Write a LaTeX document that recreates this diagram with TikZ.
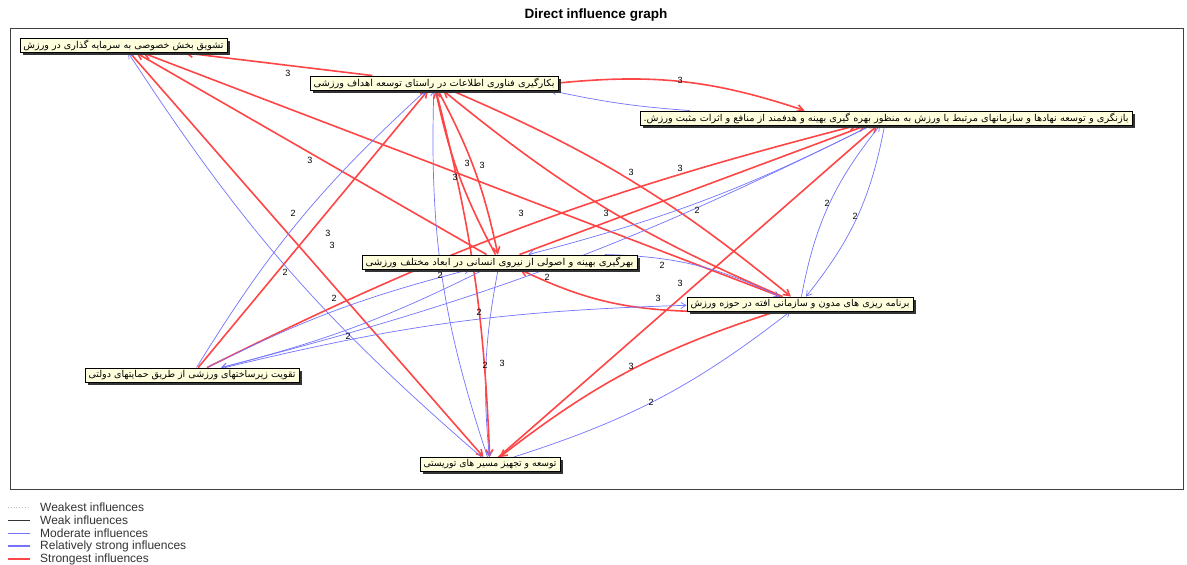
\documentclass[tikz,border=0pt]{standalone}
\usepackage{fontspec}
\setmainfont{Liberation Sans}
\newfontfamily\fa[Script=Arabic]{DejaVu Sans}
\TeXXeTstate=1
\usetikzlibrary{arrows.meta,shadows,backgrounds}
\definecolor{edgered}{RGB}{255,70,70}
\definecolor{edgeblue}{RGB}{115,115,255}
\definecolor{boxfill}{RGB}{255,255,222}
\newcommand{\fatext}[2]{\resizebox{#1}{\height}{\fa\fontsize{9.5}{11}\selectfont #2}}
\tikzset{
  factor/.style={draw=black, line width=0.9pt, fill=boxfill, inner sep=0pt, minimum height=14pt,
    drop shadow={shadow xshift=2.5pt, shadow yshift=-2.5pt, fill=black!80, opacity=1}},
  strong/.style={draw=edgered, line width=1.6pt, -{Straight Barb[length=6pt,width=7pt]}},
  moderate/.style={draw=edgeblue, line width=0.7pt, -{Straight Barb[length=5pt,width=6pt]}},
  wlabel/.style={font=\fontsize{9}{10}\selectfont, inner sep=0pt},
  legtext/.style={font=\fontsize{12}{13}\selectfont, text=black!80, anchor=west, inner sep=0pt},
}
\begin{document}
\begin{tikzpicture}[x=1pt,y=-1pt]
\useasboundingbox (0,0) rectangle (1187,565);
\node[font=\bfseries\fontsize{13.5}{15}\selectfont] (title) at (596,15) {Direct influence graph};

% factors
\node[factor, minimum width=207pt] (A) at (123.5,45.5) {\fatext{200pt}{\beginR تشویق بخش خصوصی به سرمایه گذاری در ورزش\endR}};
\node[factor, minimum width=248pt] (B) at (434,83) {\fatext{241pt}{\beginR بکارگیری فناوری اطلاعات در راستای توسعه اهداف ورزشی\endR}};
\node[factor, minimum width=492pt] (C) at (886,118) {\fatext{485pt}{\beginR بازنگری و توسعه نهادها و سازمانهای مرتبط با ورزش به منظور بهره گیری بهینه و هدفمند از منافع و اثرات مثبت ورزش.\endR}};
\node[factor, minimum width=275pt] (D) at (499.5,262) {\fatext{268pt}{\beginR بهرگیری بهینه و اصولی از نیروی انسانی در ابعاد مختلف ورزشی\endR}};
\node[factor, minimum width=226pt] (E) at (800,304) {\fatext{219pt}{\beginR برنامه ریزی های مدون و سازمانی افته در حوزه ورزش\endR}};
\node[factor, minimum width=214pt] (F) at (192,375) {\fatext{207pt}{\beginR تقویت زیرساختهای ورزشی از طریق حمایتهای دولتی\endR}};
\node[factor, minimum width=140pt] (G) at (490,464.5) {\fatext{133pt}{\beginR توسعه و تجهیز مسیر های توریستی\endR}};

\begin{scope}[on background layer]
\fill[white] (0,0) rectangle (1187,565);
\draw[black!75, line width=0.8pt] (10,28) rectangle (1183,489);
% strongest influences
\draw[strong] (B) to (A);
\draw[strong] (B.east) to[bend left=12] ([xshift=165pt]C.north west);
\draw[strong] (E) to (A);
\draw[strong] (D) to (A);
\draw[strong] (A) to (G);
\draw[strong] (F) to (B);
\draw[strong] (B) to[bend left=8] (D);
\draw[strong] (D) to[bend left=8] (B);
\draw[strong] (B) to[bend left=8] (E);
\draw[strong] (E) to[bend left=8] (B);
\draw[strong] (F) to[bend left=6] (C);
\draw[strong] (D) to (C);
\draw[strong] (G) to (C);
\draw[strong] (E) to[bend left=12] (D);
\draw[strong] (E) to[bend right=10] (G);
\draw[strong] (B) to[bend left=6] (G);
% moderate influences
\draw[moderate] ([xshift=50pt]C.north west) to[bend left=4] ([xshift=-8pt]B.south east);
\draw[moderate] (G) to[bend left=8] (A);
\draw[moderate] (F) to[bend left=8] (B);
\draw[moderate] (F) to[bend left=6] (D);
\draw[moderate] (D) to[bend left=6] (F);
\draw[moderate] (C) to[bend left=6] (F);
\draw[moderate] (C) to[bend left=6] (D);
\draw[moderate] (D) to[bend left=12] (E);
\draw[moderate] (C) to[bend left=14] (E);
\draw[moderate] (E) to[bend left=14] (C);
\draw[moderate] (G) to[bend left=10] (B);
\draw[moderate] (D) to[bend right=8] (G);
\draw[moderate] (F) to[bend left=6] (E);
\draw[moderate] (G) to[bend right=10] (E);
\end{scope}

% edge weights
\node[wlabel] (l1) at (288,73) {3};
\node[wlabel] (l2) at (680,80) {3};
\node[wlabel] (l3) at (455,177) {3};
\node[wlabel] (l4) at (310,160) {3};
\node[wlabel] (l5) at (332,245) {3};
\node[wlabel] (l6) at (328,233) {3};
\node[wlabel] (l7) at (482,165) {3};
\node[wlabel] (l8) at (467,163) {3};
\node[wlabel] (l9) at (631,172) {3};
\node[wlabel] (l10) at (606,213) {3};
\node[wlabel] (l11) at (521,213) {3};
\node[wlabel] (l12) at (680,168) {3};
\node[wlabel] (l13) at (658,298) {3};
\node[wlabel] (l14) at (680,283) {3};
\node[wlabel] (l15) at (631,366) {3};
\node[wlabel] (l16) at (502,363) {3};
\node[wlabel] (m1) at (285,272) {2};
\node[wlabel] (m2) at (293,213) {2};
\node[wlabel] (m3) at (334,298) {2};
\node[wlabel] (m4) at (348,336) {2};
\node[wlabel] (m5) at (547,277) {2};
\node[wlabel] (m6) at (697,210) {2};
\node[wlabel] (m7) at (662,265) {2};
\node[wlabel] (m8) at (855,216) {2};
\node[wlabel] (m9) at (827,203) {2};
\node[wlabel] (m10) at (440,275) {2};
\node[wlabel] (m11) at (485,365) {2};
\node[wlabel] (m12) at (479,312) {2};
\node[wlabel] (m13) at (651,402) {2};

% legend
\draw[gray!50, dotted, line width=0.8pt] (8,507) -- (30,507);
\node[legtext] (g1) at (40,507) {Weakest influences};
\draw[black!80, line width=0.6pt] (8,520) -- (30,520);
\node[legtext] (g2) at (40,520) {Weak influences};
\draw[edgeblue, line width=1pt] (8,533) -- (30,533);
\node[legtext] (g3) at (40,533) {Moderate influences};
\draw[edgeblue, line width=2pt] (8,546) -- (30,546);
\node[legtext] (g4) at (40,546) {Relatively strong influences};
\draw[edgered, line width=2pt] (8,559) -- (30,559);
\node[legtext] (g5) at (40,559) {Strongest influences};
\end{tikzpicture}
\end{document}
